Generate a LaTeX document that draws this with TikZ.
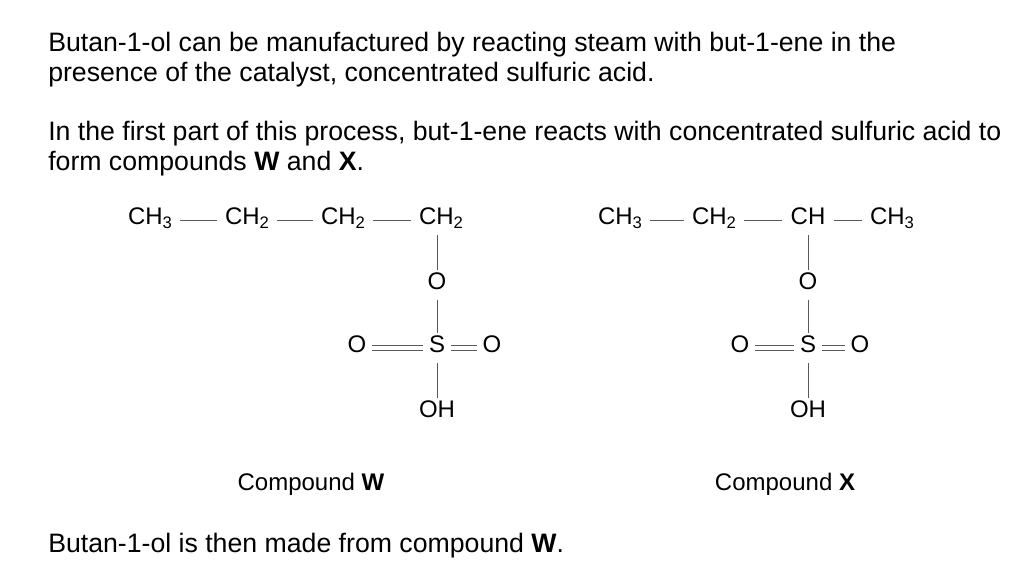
\documentclass[tikz,border=0pt]{standalone}
\usepackage{fontspec}
\setmainfont{Liberation Sans}
\newcommand{\sbs}[1]{\raisebox{-0.3ex}{\fontsize{12.5}{15}\selectfont #1}}
\begin{document}
\begin{tikzpicture}[x=0.75pt,y=-0.75pt,
 txt/.style={anchor=base west,inner sep=0pt,font=\fontsize{20}{24}\selectfont},
 atm/.style={inner sep=1pt,text height=1.6ex,text depth=0.4ex,font=\fontsize{18}{22}\selectfont},
 bd/.style={line width=0.7pt,gray!70!black,shorten >=5pt,shorten <=5pt},
 dbl/.style={bd,double distance=3pt,shorten >=3pt,shorten <=3pt}]
\useasboundingbox (0,0) rectangle (1028,574);
\node[txt] (t1) at (48,52) {Butan-1-ol can be manufactured by reacting steam with but-1-ene in the};
\node[txt] (t2) at (48,82) {presence of the catalyst, concentrated sulfuric acid.};
\node[txt] (t3) at (48,141) {In the first part of this process, but-1-ene reacts with concentrated sulfuric acid to};
\node[txt] (t4) at (48,171) {form compounds \textbf{W} and \textbf{X}.};
\node[txt] (t5) at (48,552) {Butan-1-ol is then made from compound \textbf{W}.};
% W
\node[atm] (w1) at (150,220) {CH\sbs{3}};
\node[atm] (w2) at (247,220) {CH\sbs{2}};
\node[atm] (w3) at (343,220) {CH\sbs{2}};
\node[atm] (w4) at (441,220) {CH\sbs{2}};
\node[atm] (wo) at (437,285) {O};
\node[atm] (ws) at (437,348) {S};
\node[atm] (wl) at (357,348) {O};
\node[atm] (wr) at (492,348) {O};
\node[atm] (wh) at (437,413) {OH};
\draw[bd] (w1) -- (w2); \draw[bd] (w2) -- (w3); \draw[bd] (w3) -- (w4);
\draw[bd] (w4.south -| wo) -- (wo); \draw[bd] (wo) -- (ws); \draw[bd] (ws) -- (wh.north -| ws);
\draw[dbl] (wl) -- (ws); \draw[dbl] (ws) -- (wr);
\node[atm] (cw) at (311,486) {Compound \textbf{W}};
% X
\node[atm] (x1) at (620,220) {CH\sbs{3}};
\node[atm] (x2) at (714,220) {CH\sbs{2}};
\node[atm] (x3) at (808,220) {CH};
\node[atm] (x4) at (892,220) {CH\sbs{3}};
\node[atm] (xo) at (808,285) {O};
\node[atm] (xs) at (808,348) {S};
\node[atm] (xl) at (740,348) {O};
\node[atm] (xr) at (860,348) {O};
\node[atm] (xh) at (808,413) {OH};
\draw[bd] (x1) -- (x2); \draw[bd] (x2) -- (x3); \draw[bd] (x3) -- (x4);
\draw[bd] (x3.south -| xo) -- (xo); \draw[bd] (xo) -- (xs); \draw[bd] (xs) -- (xh.north -| xs);
\draw[dbl] (xl) -- (xs); \draw[dbl] (xs) -- (xr);
\node[atm] (cx) at (785,486) {Compound \textbf{X}};
\end{tikzpicture}
\end{document}
